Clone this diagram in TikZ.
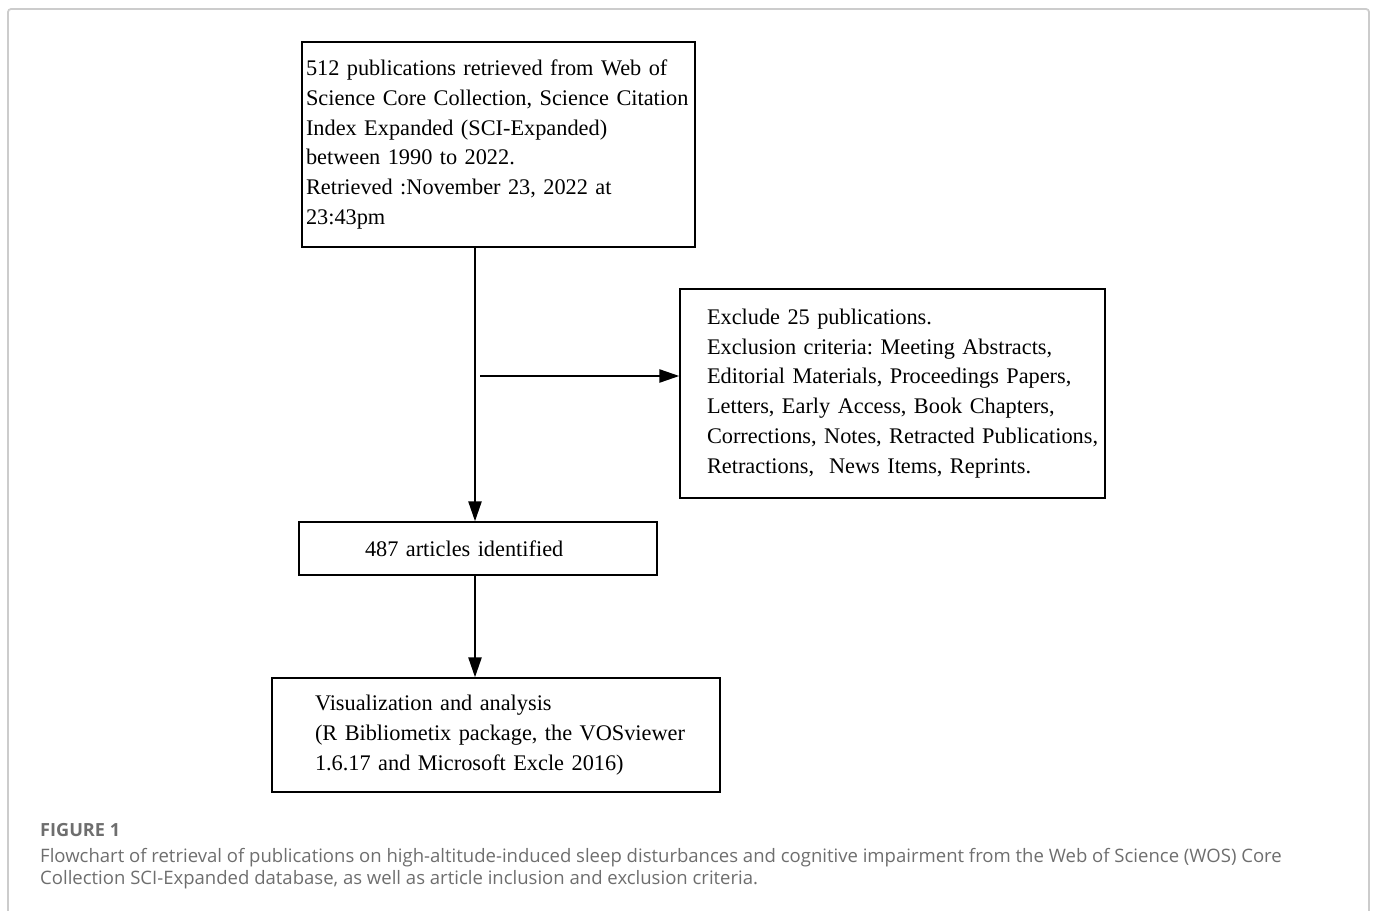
\documentclass[tikz,border=0pt]{standalone}
\usepackage{fontspec}
\setmainfont{Liberation Serif}
\newfontfamily\capfont{Open Sans}
\usepackage{xcolor}
\usetikzlibrary{arrows.meta}

\definecolor{framegray}{HTML}{CCCCCC}
\definecolor{capgray}{HTML}{6E6E6E}

\begin{document}
\begin{tikzpicture}[
  x=1bp, y=1bp,
  box/.style={draw, line width=1.3bp, inner sep=0pt, align=left,
    font=\fontsize{22.4}{30}\selectfont\frenchspacing},
  indent/.style={execute at begin node={\leftskip=#1\relax}},
  arrow/.style={-{Triangle[length=20bp, width=13bp]}, line width=2.4bp},
  caption/.style={anchor=north west, inner sep=0pt, text=capgray, align=left},
]
  \useasboundingbox (0,0) rectangle (1373,-910);
  \draw[framegray, line width=1.8bp, rounded corners=3bp] (8,-9) rectangle (1369,-940);

  \node (b1) [box, text width=393bp, minimum height=205bp, indent=4bp] at (498.5,-144.5)
    {512 publications retrieved from Web of\\
     Science Core Collection, Science Citation\\
     Index Expanded (SCI-Expanded)\\
     between 1990 to 2022.\\
     Retrieved :November 23, 2022 at\\
     23:43pm};
  \node (b2) [box, text width=425bp, minimum height=209bp, indent=27bp] at (892.5,-393.5)
    {Exclude 25 publications.\\
     Exclusion criteria: Meeting Abstracts,\\
     Editorial Materials, Proceedings Papers,\\
     Letters, Early Access, Book Chapters,\\
     Corrections, Notes, Retracted Publications,\\
     Retractions,\ \ News Items, Reprints.};
  \node (b3) [box, text width=358bp, minimum height=53bp, indent=66bp] at (478,-548.5)
    {487 articles identified};
  \node (b4) [box, text width=448bp, minimum height=114bp, indent=43bp] at (496,-735)
    {Visualization and analysis\\
     (R Bibliometix package, the VOSviewer\\
     1.6.17 and Microsoft Excle 2016)};

  \coordinate (split) at (475,-376);
  \coordinate (branch) at (480,-376);

  \draw[arrow] (b1.south -| split) -- (b3.north -| split);
  \draw[arrow] (branch) -- (branch -| b2.west);
  \draw[arrow] (b3.south -| split) -- (b4.north -| split);

  % caption
  \node (figno) [caption, font=\capfont\bfseries\fontsize{18.2}{20}\selectfont] at (40,-823) {FIGURE 1};
  \node (captext) [caption, font=\capfont\fontsize{18.6}{22.5}\selectfont] at (40,-848)
    {Flowchart of retrieval of publications on high-altitude-induced sleep disturbances and cognitive impairment from the Web of Science (WOS) Core\\
     Collection SCI-Expanded database, as well as article inclusion and exclusion criteria.};
\end{tikzpicture}
\end{document}
